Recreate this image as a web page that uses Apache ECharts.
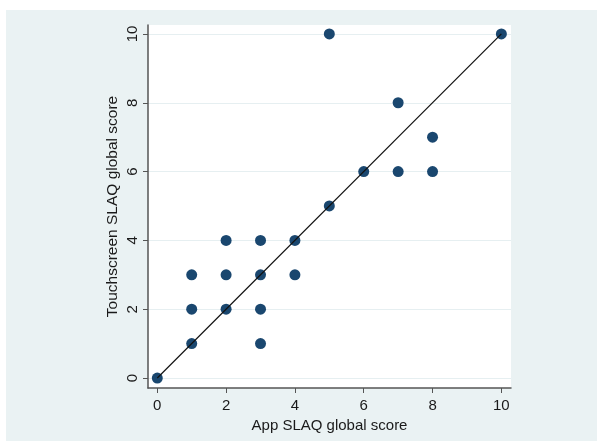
<!DOCTYPE html>
<html><head><meta charset="utf-8">
<script src="https://cdn.jsdelivr.net/npm/echarts@6/dist/echarts.min.js"></script>
<style>html,body{margin:0;padding:0;background:#fff}#c{width:597px;height:441px}</style>
</head><body><div id="c"></div>
<script>
var appScore = [0,1,1,1,2,2,2,3,3,3,3,4,4,5,5,6,7,7,8,8,10];
var touchScore = [0,1,2,3,2,3,4,1,2,3,4,3,4,5,10,6,6,8,6,7,10];
var tickValues = [0,2,4,6,8,10];
var lineX = [0,10];
var lineY = [0,10];

var points = appScore.map(function(v,i){return [v,touchScore[i]];});
var chart = echarts.init(document.getElementById('c'), null, {renderer:'canvas'});
var font = 'Liberation Sans, Arial, sans-serif';
chart.setOption({
  animation:false,
  backgroundColor:'#ffffff',
  graphic:[{type:'rect', shape:{x:6,y:10,width:591,height:431}, style:{fill:'#eaf2f3'}, z:-10, silent:true},
           {type:'rect', shape:{x:148,y:25,width:363,height:363}, style:{fill:'#ffffff'}, z:-9, silent:true}],
  grid:{left:148,right:86,top:25,bottom:53,containLabel:false},
  xAxis:{type:'value',min:-0.27,max:10.28,
    name:'App SLAQ global score',nameLocation:'middle',nameGap:29,
    nameTextStyle:{fontFamily:font,fontSize:15,color:'#1a1a1a'},
    axisLine:{show:true,onZero:false,lineStyle:{color:'#555',width:1.5}},
    axisTick:{show:true,customValues:tickValues,length:5,lineStyle:{color:'#555'}},
    axisLabel:{customValues:tickValues,fontFamily:font,fontSize:15,color:'#1a1a1a',margin:10},
    splitLine:{show:false}},
  yAxis:{type:'value',min:-0.29,max:10.26,
    name:'Touchscreen SLAQ global score',nameLocation:'middle',nameGap:27,nameRotate:90,nameMoveOverlap:false,
    nameTextStyle:{fontFamily:font,fontSize:15.5,color:'#1a1a1a'},
    axisLine:{show:true,onZero:false,lineStyle:{color:'#555',width:1.5}},
    axisTick:{show:true,customValues:tickValues,length:5,lineStyle:{color:'#555'}},
    axisLabel:{customValues:tickValues,fontFamily:font,fontSize:15,color:'#1a1a1a',rotate:90,margin:8,align:'center',verticalAlign:'bottom'},
    splitLine:{show:false}},
  series:[
    {type:'line',data:tickValues.map(function(v){return [0,v];}),showSymbol:false,lineStyle:{width:0},silent:true,z:0,zlevel:0,
     markLine:{silent:true,z:0,symbol:'none',label:{show:false},lineStyle:{color:'#e6eff1',width:1,type:'solid'},
       data:tickValues.map(function(v){return {yAxis:v};})}},
    {type:'scatter',data:points,symbolSize:11,itemStyle:{color:'#1a476f',opacity:1},z:10},
    {type:'line',data:lineX.map(function(v,i){return [v,lineY[i]];}),showSymbol:false,
     lineStyle:{color:'#111',width:1.2},z:12}
  ]
});
</script></body></html>
